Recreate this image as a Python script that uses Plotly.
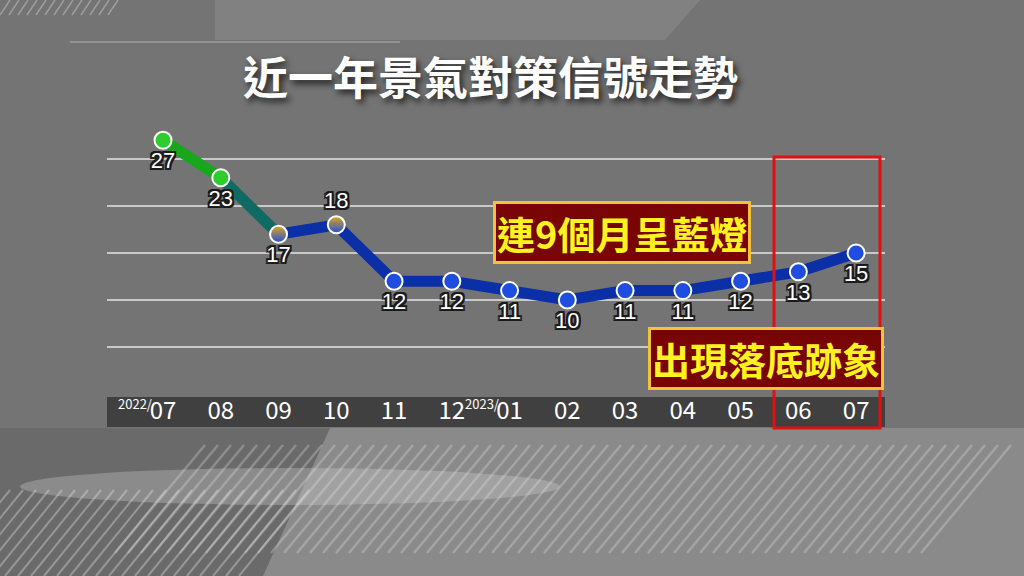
import plotly.graph_objects as go

# 景氣對策信號 (分數), 2022/07 ~ 2023/07
months = ["2022/07", "2022/08", "2022/09", "2022/10", "2022/11", "2022/12", "2023/01",
          "2023/02", "2023/03", "2023/04", "2023/05", "2023/06", "2023/07"]
tick_text = ["07", "08", "09", "10", "11", "12", "01", "02", "03", "04", "05", "06", "07"]
year_marks = [(0, "2022/"), (6, "2023/")]
scores = [27, 23, 17, 18, 12, 12, 11, 10, 11, 11, 12, 13, 15]
label_pos = ["bottom center", "bottom center", "bottom center", "top center"] + ["bottom center"] * 9
dot_colors = ["#2ccd2c", "#2ccd2c", "#e0a816", "#e0a816"] + ["#1f4de0"] * 9
dot_grad = ["none", "none", "vertical", "vertical"] + ["none"] * 9

L, R, T, B = 107, 139, 112, 182
W, H = 1024, 576
pw, ph = W - L - R, H - T - B


def px(x, y):
    # pixel -> paper coordinates
    return (x - L) / pw, (H - B - y) / ph


def poly(pts, **kw):
    pp = [px(*p) for p in pts]
    path = "M" + " L".join(f"{a},{b}" for a, b in pp) + " Z"
    return dict(type="path", xref="paper", yref="paper", path=path, layer="below", **kw)


fig = go.Figure()

# line segments
fig.add_trace(go.Scatter(x=months[0:2], y=scores[0:2], mode="lines",
                         line=dict(color="#17a61c", width=11), hoverinfo="skip"))
fig.add_trace(go.Scatter(x=months[1:3], y=scores[1:3], mode="lines",
                         line=dict(color="#0f6a62", width=11), hoverinfo="skip"))
fig.add_trace(go.Scatter(x=months[2:], y=scores[2:], mode="lines",
                         line=dict(color="#0b2fa6", width=11), hoverinfo="skip"))

# points + labels
fig.add_trace(go.Scatter(
    x=months, y=scores, mode="markers+text",
    text=[str(s) for s in scores], textposition=label_pos,
    textfont=dict(family="Liberation Sans", size=22, color="white",
                  shadow="-2px -2px 0 #1a1a1a, 2px -2px 0 #1a1a1a, -2px 2px 0 #1a1a1a, 2px 2px 0 #1a1a1a, 0 2px 0 #1a1a1a, 0 -2px 0 #1a1a1a, 2px 0 0 #1a1a1a, -2px 0 0 #1a1a1a"),
    marker=dict(size=17, color=dot_colors,
                gradient=dict(type=dot_grad, color="#1f4de0"),
                line=dict(color="white", width=2)),
))

shapes = []
# top decorations
shapes.append(poly([(215, 0), (700, 0), (665, 40), (215, 40)], fillcolor="rgba(160,160,160,0.3)", line_width=0))
shapes.append(poly([(70, 41), (400, 41), (400, 43), (70, 43)], fillcolor="rgba(200,200,200,0.35)", line_width=0))
for sx in range(0, 115, 9):
    a = px(sx, 15); b = px(sx + 10, 0)
    shapes.append(dict(type="line", xref="paper", yref="paper", x0=a[0], y0=a[1], x1=b[0], y1=b[1],
                       line=dict(color="rgba(220,220,220,0.4)", width=1.5), layer="below"))

# bottom background panels
shapes.append(poly([(0, 428), (W, 428), (W, H), (0, H)], fillcolor="#6a6a6a", line_width=0))
shapes.append(poly([(330, 428), (W, 428), (W, H), (263, H)], fillcolor="#8a8a8a", line_width=0))
# soft light streak
a = px(20, 468); b = px(560, 505)
shapes.append(dict(type="circle", xref="paper", yref="paper", x0=a[0], x1=b[0], y0=a[1], y1=b[1],
                   fillcolor="rgba(215,215,215,0.3)", line_width=0, layer="below"))

# diagonal stripes
for sx in range(10, 320, 13):
    a = px(sx - 70, H); b = px(sx, 490)
    shapes.append(dict(type="line", xref="paper", yref="paper", x0=a[0], y0=a[1], x1=b[0], y1=b[1],
                       line=dict(color="rgba(235,235,235,0.35)", width=2), layer="below"))
for sx in range(205, 1024, 13):
    a = px(sx - 90, 553); b = px(sx, 445)
    shapes.append(dict(type="line", xref="paper", yref="paper", x0=a[0], y0=a[1], x1=b[0], y1=b[1],
                       line=dict(color="rgba(235,235,235,0.28)", width=2.5), layer="below"))

# tick label bar
shapes.append(poly([(107, 397), (885, 397), (885, 427), (107, 427)], fillcolor="rgba(55,55,55,0.85)", line_width=0))

# red highlight box
a = px(774, 157); b = px(880, 428)
shapes.append(dict(type="rect", xref="paper", yref="paper", x0=a[0], x1=b[0], y0=b[1], y1=a[1],
                   line=dict(color="#e01010", width=3), fillcolor="rgba(0,0,0,0)"))

annotations = []
tx, ty = px(490, 75)
annotations.append(dict(xref="paper", yref="paper", x=tx, y=ty, showarrow=False,
                        xanchor="center", yanchor="middle",
                        text="<b>近一年景氣對策信號走勢</b>",
                        font=dict(family="Noto Sans CJK TC", size=45, color="white",
                                  shadow="3px 4px 6px rgba(0,0,0,0.7)")))
for txt, cx, cy in [("連<b>9</b>個月呈藍燈", 622, 232), ("出現落底跡象", 766, 358)]:
    ax, ay = px(cx, cy)
    annotations.append(dict(xref="paper", yref="paper", x=ax, y=ay, showarrow=False,
                            xanchor="center", yanchor="middle",
                            text=txt, bgcolor="#780404", bordercolor="#f2c23a",
                            borderwidth=3, borderpad=1,
                            font=dict(family="Noto Sans CJK TC", size=38, color="#fff21e",
                                      weight="bold")))
# year prefixes on the tick labels
_, yy = px(0, 403)
for i, yr in year_marks:
    annotations.append(dict(xref="x", yref="paper", x=months[i], y=yy, showarrow=False,
                            xanchor="right", yanchor="middle", xshift=-9,
                            text=yr, font=dict(family="Noto Sans CJK TC", size=13, color="white")))

fig.update_layout(
    width=W, height=H,
    margin=dict(l=L, r=R, t=T, b=B),
    paper_bgcolor="#747474", plot_bgcolor="rgba(0,0,0,0)",
    showlegend=False,
    shapes=shapes, annotations=annotations,
    xaxis=dict(type="category", range=[-0.97, 12.5], tickvals=months, ticktext=tick_text,
               tickfont=dict(family="Noto Sans CJK TC", size=24, color="white"),
               showgrid=False, zeroline=False, showline=False, ticks="", ticklabelstandoff=0),
    yaxis=dict(range=[0, 30], tickvals=[5, 10, 15, 20, 25], showticklabels=False,
               showgrid=True, gridcolor="#c9c9c9", gridwidth=1.5, zeroline=False),
)

fig.write_html("out.html", config={"displayModeBar": False},
               post_script="document.body.style.margin='0';")
